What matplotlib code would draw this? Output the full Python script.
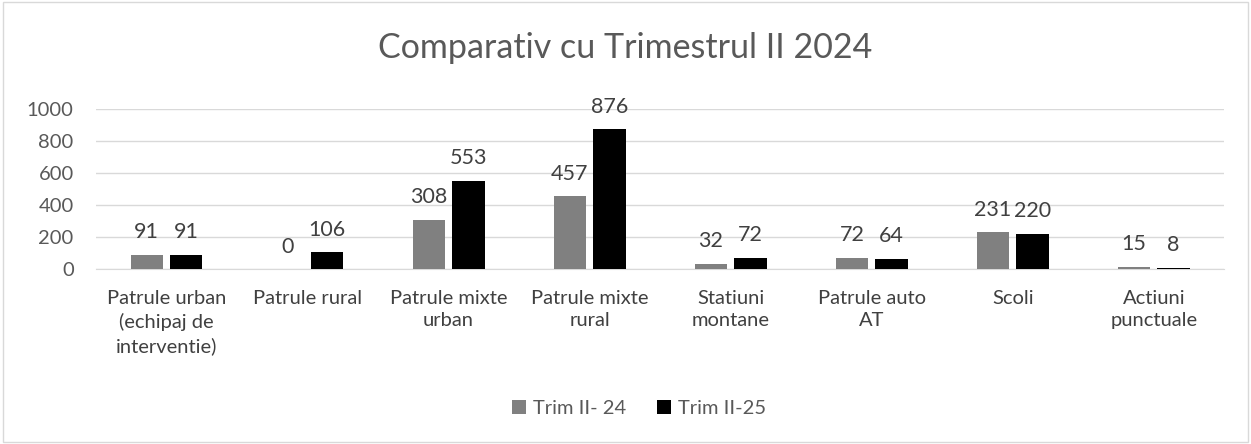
import matplotlib
matplotlib.use("Agg")
import matplotlib.pyplot as plt
import numpy as np

# DATA
categories = ["Patrule urban\n(echipaj de\ninterventie)", "Patrule rural", "Patrule mixte\nurban",
              "Patrule mixte\nrural", "Statiuni\nmontane", "Patrule auto\nAT", "Scoli", "Actiuni\npunctuale"]
trim_24 = [91, 0, 308, 457, 32, 72, 231, 15]
trim_25 = [91, 106, 553, 876, 72, 64, 220, 8]
series_names = ["Trim II- 24", "Trim II-25"]
yticks = [0, 200, 400, 600, 800, 1000]

plt.rcParams['font.family'] = ['Lato', 'DejaVu Sans']
txt = "#595959"

fig = plt.figure(figsize=(12.51, 4.44), dpi=100)
ax = fig.add_axes([0.0767, 0.394, 0.902, 0.360])

x = np.arange(len(categories))
w = 0.23
b1 = ax.bar(x - 0.14, trim_24, w, color="#808080", label=series_names[0], zorder=3)
b2 = ax.bar(x + 0.14, trim_25, w, color="#000000", label=series_names[1], zorder=3)

for bars in (b1, b2):
    for r in bars:
        h = r.get_height()
        ax.annotate(str(int(h)), (r.get_x() + r.get_width() / 2, h), xytext=(0, 9),
                    textcoords="offset points", ha="center", va="bottom", fontsize=15.5, color="#404040")

ax.set_xlim(-0.5, len(categories) - 0.5)
ax.set_ylim(0, 1000)
ax.set_yticks(yticks)
ax.set_yticklabels([str(t) for t in yticks], fontsize=14.5, color=txt)
ax.set_xticks(x)
ax.set_xticklabels(categories, fontsize=14.5, color="#404040", linespacing=1.4, va="top")
ax.tick_params(axis="y", length=0, pad=16)
ax.tick_params(axis="x", length=0, pad=15)
ax.grid(axis="y", color="#d9d9d9", linewidth=1, zorder=0)
for s in ["top", "right", "left"]:
    ax.spines[s].set_visible(False)
ax.spines["bottom"].set_color("#d9d9d9")

fig.text(0.5, 0.893, "Comparativ cu Trimestrul II 2024", ha="center", va="center", fontsize=24.5, color=txt)

fig.legend(loc="center", bbox_to_anchor=(0.511, 0.08), ncol=2, frameon=False, fontsize=14.5,
           handlelength=0.7, handleheight=0.7, handletextpad=0.35, columnspacing=1.5, labelcolor=txt)

# border around the chart
fig.patches.append(plt.Rectangle((0.002, 0.005), 0.996, 0.99, transform=fig.transFigure,
                                 fill=False, edgecolor="#d9d9d9", linewidth=1))

fig.savefig("out.png", dpi=100)
